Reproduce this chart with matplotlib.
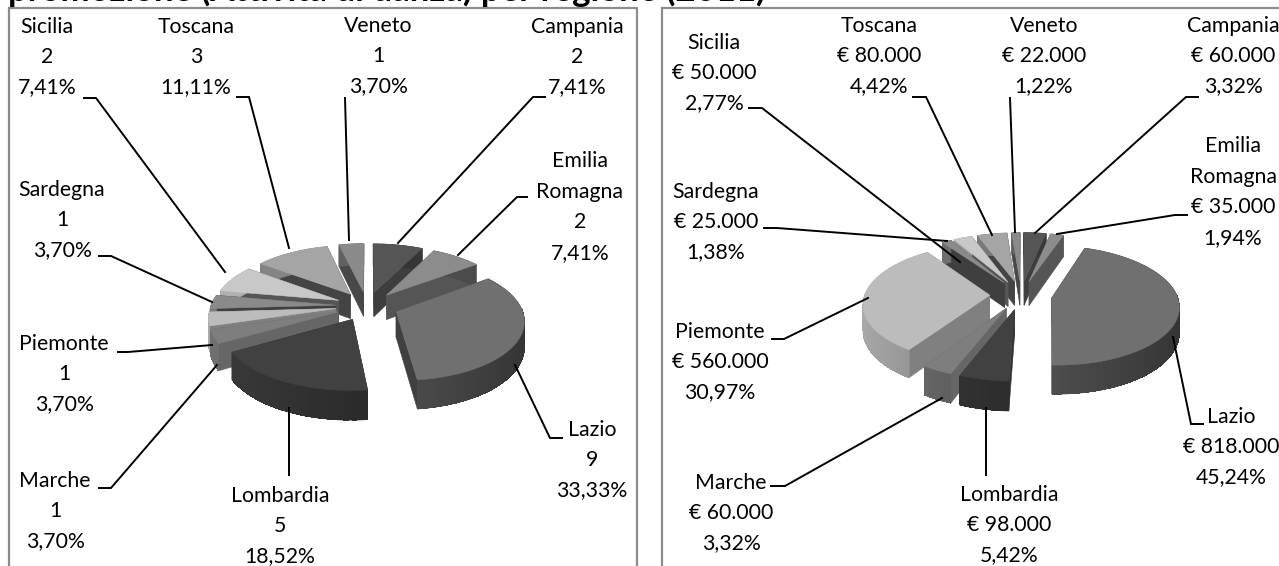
import numpy as np
import matplotlib
matplotlib.use('Agg')
import matplotlib.pyplot as plt
from matplotlib.patches import Polygon, Rectangle

plt.rcParams['font.family'] = ['Lato', 'DejaVu Sans']

regions = ['Campania', 'Emilia\nRomagna', 'Lazio', 'Lombardia', 'Marche',
           'Piemonte', 'Sardegna', 'Sicilia', 'Toscana', 'Veneto']
counts = [2, 2, 9, 5, 1, 1, 1, 2, 3, 1]
count_pct = ['7,41%', '7,41%', '33,33%', '18,52%', '3,70%',
             '3,70%', '3,70%', '7,41%', '11,11%', '3,70%']
euros = [60000, 35000, 818000, 98000, 60000, 560000, 25000, 50000, 80000, 22000]
euro_pct = ['3,32%', '1,94%', '45,24%', '5,42%', '3,32%',
            '30,97%', '1,38%', '2,77%', '4,42%', '1,22%']
grays = ['#555555', '#8c8c8c', '#707070', '#414141', '#7e7e7e',
         '#bcbcbc', '#8a8a8a', '#c8c8c8', '#a5a5a5', '#8a8a8a']
wall_grays = ['#3e3e3e', '#555555', '#404040', '#333333', '#666666',
              '#808080', '#3f3f3f', '#555555', '#444444', '#484848']

# label centres, same order as regions (pixels)
left_labels = [(577, 57), (580, 207), (592, 460), (280, 526), (55, 511),
               (64, 374), (62, 220), (47, 57), (196, 57), (378, 56)]
right_labels = [(1233, 56), (1233, 192), (1231, 447), (1009, 525), (731, 513),
                (720, 362), (716, 222), (714, 73), (879, 56), (1044, 56)]

# leader lines (pixels)
left_leaders = [[(545, 97), (533, 97), (398, 243)],
                [(527, 197), (517, 197), (458, 255)],
                [(562, 438), (550, 438), (515, 365)],
                [(289, 475), (289, 408)],
                [(99, 488), (111, 488), (217, 365)],
                [(118, 352), (128, 352), (212, 345)],
                [(99, 256), (111, 256), (212, 302)],
                [(84, 98), (96, 98), (225, 272)],
                [(237, 97), (249, 97), (289, 248)],
                [(345, 98), (349, 240)]]
right_leaders = [[(1198, 97), (1186, 97), (1035, 233)],
                 [(1187, 215), (1175, 215), (1057, 234)],
                 [(1203, 424), (1191, 424), (1173, 337)],
                 [(986, 475), (986, 408)],
                 [(771, 486), (785, 486), (942, 398)],
                 [(772, 339), (784, 339), (868, 298)],
                 [(764, 228), (777, 228), (947, 241)],
                 [(749, 108), (762, 108), (960, 262)],
                 [(913, 97), (926, 97), (992, 235)],
                 [(1010, 98), (1015, 232)]]

RX = 125
RY = 58
DEPTH = 25
EXPLODE = 0.25
PERSP = 0.13


def shade(color, f):
    rgb = np.array(matplotlib.colors.to_rgb(color)) * f
    return tuple(np.clip(rgb, 0, 1))


def project(x, y, cx, cy, drop=0):
    w = 1 / (1 - PERSP * y)
    return cx + RX * x * w, cy + RY * y * w + drop * w


def draw_pie(ax, values, cx, cy):
    values = np.array(values, dtype=float)
    edges = np.concatenate([[0], np.cumsum(values)]) / values.sum() * 2 * np.pi
    mids = (edges[:-1] + edges[1:]) / 2
    # back slices first
    for i in np.argsort(-np.cos(mids)):
        a0, a1, mid = edges[i], edges[i + 1], mids[i]
        ox, oy = EXPLODE * np.sin(mid), -EXPLODE * np.cos(mid)
        t = np.linspace(a0, a1, max(4, int((a1 - a0) * 40)))
        xs = ox + np.sin(t)
        ys = oy - np.cos(t)
        top = [project(ox, oy, cx, cy)] + [project(a, b, cx, cy) for a, b in zip(xs, ys)]
        # radial walls
        for ang in (a0, a1):
            ex, ey = ox + np.sin(ang), oy - np.cos(ang)
            wall = [project(ox, oy, cx, cy), project(ex, ey, cx, cy),
                    project(ex, ey, cx, cy, DEPTH), project(ox, oy, cx, cy, DEPTH)]
            ax.add_patch(Polygon(wall, closed=True, fc=wall_grays[i], ec=wall_grays[i], lw=0.4))
        # outer rim: smooth underlay, then aliased strips shaded left to right
        under = [project(a, b, cx, cy) for a, b in zip(xs, ys)] + \
                [project(a, b, cx, cy, DEPTH) for a, b in zip(xs[::-1], ys[::-1])]
        c = shade(grays[i], 0.68 - 0.22 * np.sin(mid))
        ax.add_patch(Polygon(under, closed=True, fc=c, ec=c, lw=0.5))
        for j in range(len(t) - 1):
            if np.cos((t[j] + t[j + 1]) / 2) > 0.05:
                continue
            quad = [project(xs[j], ys[j], cx, cy), project(xs[j + 1], ys[j + 1], cx, cy),
                    project(xs[j + 1], ys[j + 1], cx, cy, DEPTH), project(xs[j], ys[j], cx, cy, DEPTH)]
            c = shade(grays[i], 0.68 - 0.22 * np.sin((t[j] + t[j + 1]) / 2))
            ax.add_patch(Polygon(quad, closed=True, fc=c, lw=0, antialiased=False))
        ax.add_patch(Polygon(top, closed=True, fc=grays[i], ec=grays[i], lw=0.4))


def draw_labels(ax, values, pcts, positions, leaders):
    for name, val, pct, (x, y), pts in zip(regions, values, pcts, positions, leaders):
        ax.text(x, y, f'{name}\n{val}\n{pct}', ha='center', va='center', fontsize=15.3,
                color='black', linespacing=1.65)
        ax.plot([p[0] for p in pts], [p[1] for p in pts], color='black', lw=1.4,
                solid_joinstyle='miter')


fig = plt.figure(figsize=(12.79, 5.66), dpi=100)
ax = fig.add_axes([0, 0, 1, 1])
ax.set_xlim(0, 1279)
ax.set_ylim(566, 0)
ax.axis('off')

ax.add_patch(Rectangle((8.5, 7.5), 628, 600, fc='white', ec='#8c8c8c', lw=1.6))
ax.add_patch(Rectangle((661.5, 7.5), 640, 600, fc='white', ec='#8c8c8c', lw=1.6))

draw_pie(ax, counts, 367, 306)
draw_pie(ax, euros, 1021, 295)

draw_labels(ax, counts, count_pct, left_labels, left_leaders)
euro_text = ['€ ' + f'{v:,}'.replace(',', '.') for v in euros]
draw_labels(ax, euro_text, euro_pct, right_labels, right_leaders)

ax.text(8, 1, 'promozione (Attività di danza) per regione (2011)', ha='left', va='baseline',
        fontsize=25, fontweight='bold', color='black')

fig.savefig('out.png', dpi=100)
